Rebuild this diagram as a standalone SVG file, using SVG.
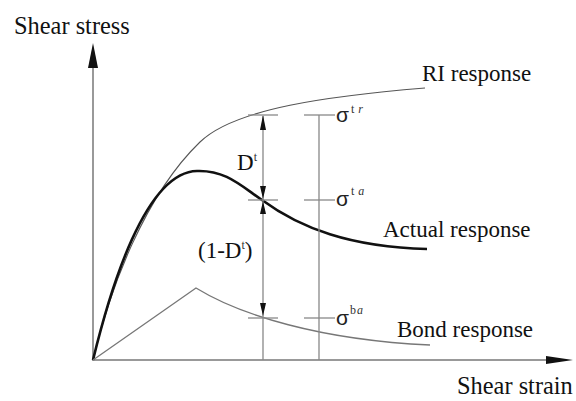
<svg xmlns="http://www.w3.org/2000/svg" width="576" height="401" viewBox="0 0 576 401">
<style>
.lbl{font-family:"Liberation Serif","Times New Roman",serif;font-size:23px;fill:#111}
.ax{font-family:"Liberation Serif","Times New Roman",serif;font-size:24.4px;fill:#111}
.sig{font-family:"Liberation Sans",Arial,sans-serif;font-size:21px;fill:#222}
.sup{font-family:"Liberation Serif","Times New Roman",serif;font-size:12px;fill:#333}
.axis{stroke:#999;stroke-width:2;fill:none}
.thin{stroke:#888;stroke-width:1.3;fill:none}
.tick{stroke:#888;stroke-width:1.3}
</style>
<rect width="576" height="401" fill="#fff"/>
<g id="axes">
<line class="axis" x1="93" y1="360" x2="93" y2="66"/>
<path d="M93,43 L88,68 L98,68 Z" fill="#111"/>
<line class="axis" x1="92" y1="360" x2="548" y2="360"/>
<path d="M573,360 L546,356 L546,364 Z" fill="#111"/>
<text class="ax" x="14" y="34">Shear stress</text>
<text class="ax" x="457" y="394">Shear strain</text>
</g>
<g id="ri-response">
<path d="M93,360 C110,288 145,195 200,142 C235,108 330,96 425,88" fill="none" stroke="#555" stroke-width="1.1"/>
<text class="lbl" x="422" y="81">RI response</text>
</g>
<g id="actual-response">
<path d="M93,360 C110,290 145,172 197,171 C225,170 240,185 262,200 C300,228 350,247 427,249" fill="none" stroke="#111" stroke-width="2.6"/>
<text class="lbl" x="383" y="237">Actual response</text>
</g>
<g id="bond-response">
<path d="M93,360 L196,288 C240,315 320,340 430,345" fill="none" stroke="#777" stroke-width="1.3"/>
<text class="lbl" x="397" y="337">Bond response</text>
</g>
<g id="connectors">
<line class="thin" x1="263" y1="116" x2="263" y2="360"/>
<path d="M263,115 L260,130 L266,130 Z" fill="#111"/>
<path d="M263,199 L260,186 L266,186 Z" fill="#111"/>
<path d="M263,201 L260,214 L266,214 Z" fill="#111"/>
<path d="M263,316 L260,303 L266,303 Z" fill="#111"/>
<line class="thin" x1="319" y1="115" x2="319" y2="360"/>
<line class="tick" x1="248" y1="115" x2="278" y2="115"/>
<line class="tick" x1="304" y1="115" x2="335" y2="115"/>
<line class="tick" x1="248" y1="200" x2="278" y2="200"/>
<line class="tick" x1="304" y1="200" x2="335" y2="200"/>
<line class="tick" x1="248" y1="318" x2="278" y2="318"/>
<line class="tick" x1="304" y1="318" x2="335" y2="318"/>
</g>
<g id="labels">
<text class="lbl" x="237" y="170">D<tspan class="sup" dy="-9">t</tspan></text>
<text class="lbl" x="198" y="258">(1-D<tspan class="sup" dy="-9">t</tspan><tspan dy="9">)</tspan></text>
<text class="sig" x="336" y="122">σ<tspan class="sup" dy="-9" dx="2">t</tspan><tspan class="sup" dx="4" font-style="italic">r</tspan></text>
<text class="sig" x="336" y="206">σ<tspan class="sup" dy="-11" dx="2">t</tspan><tspan class="sup" dx="4" font-style="italic">a</tspan></text>
<text class="sig" x="336" y="325">σ<tspan class="sup" dy="-11" dx="1">b</tspan><tspan class="sup" dx="1" font-style="italic">a</tspan></text>
</g>
</svg>
